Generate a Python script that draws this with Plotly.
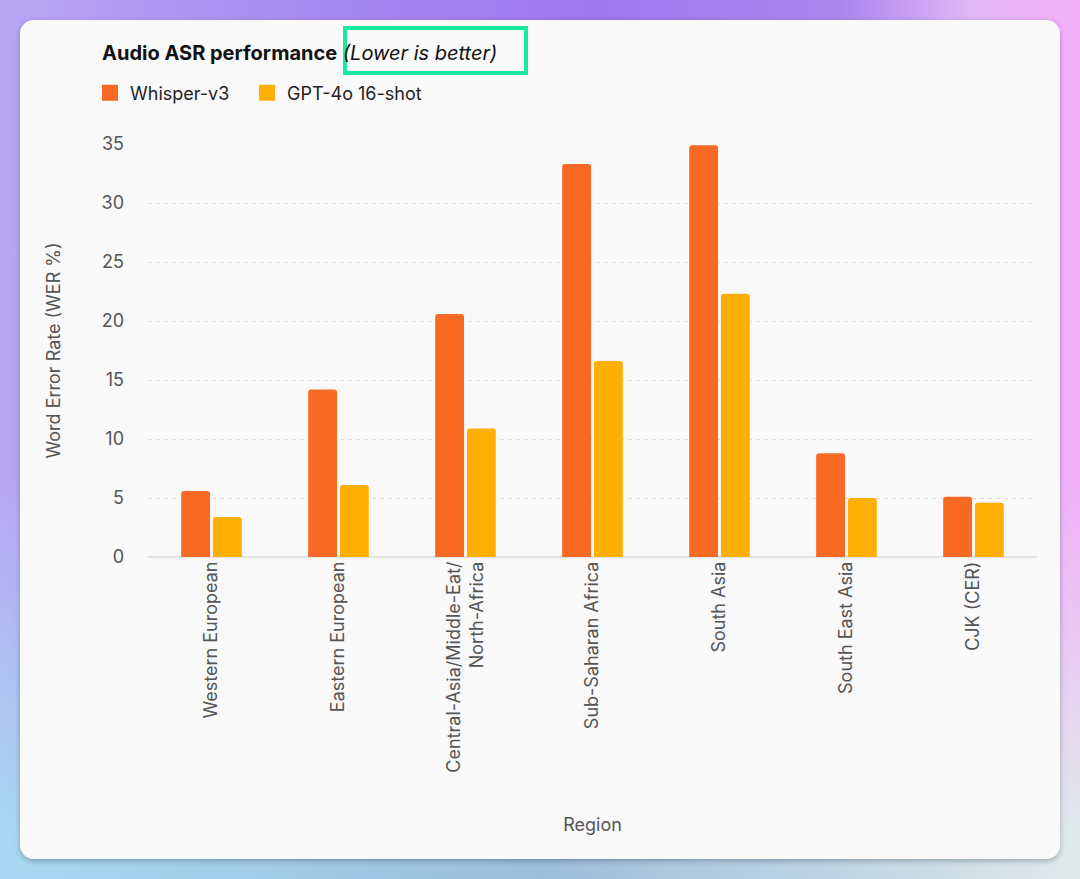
import base64
import plotly.graph_objects as go

# ---- data ----
regions = [
    "Western European",
    "Eastern European",
    "Central-Asia/Middle-Eat/<br>North-Africa",
    "Sub-Saharan Africa",
    "South Asia",
    "South East Asia",
    "CJK (CER)",
]
whisper_v3 = [5.6, 14.2, 20.6, 33.3, 34.9, 8.8, 5.1]
gpt4o_16shot = [3.4, 6.1, 10.9, 16.6, 22.3, 5.0, 4.6]
y_ticks = [0, 5, 10, 15, 20, 25, 30, 35]
series_names = ["Whisper-v3", "GPT-4o 16-shot"]
series_colors = ["#F86A24", "#FFAF03"]

# ---- layout geometry (px) ----
W, H = 1080, 879
ML, MR, MT, MB = 148, 43, 144, 322
PW, PH = W - ML - MR, H - MT - MB


def px_x(px):
    return (px - ML) / PW


def px_y(py):
    return (H - MB - py) / PH


FONT = "Inter, 'Noto Sans', sans-serif"

# background: gradient + card drawn as an svg image
svg = f"""<svg xmlns='http://www.w3.org/2000/svg' width='{W}' height='{H}' viewBox='0 0 {W} {H}'>
<defs>
<linearGradient id='top' x1='0' y1='0' x2='1' y2='0'>
<stop offset='0' stop-color='#b8a7f4'/>
<stop offset='0.3' stop-color='#a688f1'/>
<stop offset='0.55' stop-color='#9f78ef'/>
<stop offset='0.78' stop-color='#ab86ef'/>
<stop offset='0.9' stop-color='#e2b6f7'/>
<stop offset='1' stop-color='#f3affa'/>
</linearGradient>
<linearGradient id='bot' x1='0' y1='0' x2='1' y2='0'>
<stop offset='0' stop-color='#a8d8f2'/>
<stop offset='0.5' stop-color='#9bbedb'/>
<stop offset='0.85' stop-color='#c9dbe6'/>
<stop offset='1' stop-color='#e0eaea'/>
</linearGradient>
<linearGradient id='fade' x1='0' y1='0' x2='0' y2='1'>
<stop offset='0' stop-color='white'/>
<stop offset='0.55' stop-color='white'/>
<stop offset='0.95' stop-color='black'/>
</linearGradient>
<mask id='m'><rect width='{W}' height='{H}' fill='url(#fade)'/></mask>
<filter id='sh' x='-5%' y='-5%' width='110%' height='110%'>
<feDropShadow dx='0' dy='2' stdDeviation='2.5' flood-color='#2a3340' flood-opacity='0.35'/>
</filter>
</defs>
<rect width='{W}' height='{H}' fill='url(#bot)'/>
<rect width='{W}' height='{H}' fill='url(#top)' mask='url(#m)'/>
<rect x='20' y='20' width='1040' height='839' rx='14' ry='14' fill='#f9f9f9' filter='url(#sh)'/>
</svg>"""
bg_src = "data:image/svg+xml;base64," + base64.b64encode(svg.encode()).decode()

legend_ids = ["legend", "legend2"]
legend_px = [90, 247]

fig = go.Figure()
for name, vals, col in zip(series_names, [whisper_v3, gpt4o_16shot], series_colors):
    fig.add_trace(go.Bar(
        name=name, x=regions, y=vals, showlegend=False, legendgroup=name,
        marker=dict(color=col, cornerradius=3, line=dict(width=0)),
    ))
# legend entries with larger square swatches
for name, col, lg in zip(series_names, series_colors, legend_ids):
    fig.add_trace(go.Scatter(
        name=name, x=[None], y=[None], mode="markers", legendgroup=name, legend=lg,
        marker=dict(symbol="square", size=16, color=col), hoverinfo="skip",
    ))

legend_style = dict(
    orientation="h", xanchor="left", y=px_y(93), yanchor="middle",
    font=dict(family=FONT, size=18, color="#222222"),
    bgcolor="rgba(0,0,0,0)", itemsizing="trace",
)

fig.update_layout(
    width=W, height=H,
    margin=dict(l=ML, r=MR, t=MT, b=MB, autoexpand=False),
    paper_bgcolor="#f9f9f9",
    plot_bgcolor="rgba(0,0,0,0)",
    barmode="group",
    bargap=0.5,
    bargroupgap=0.09,
    font=dict(family=FONT, color="#555555", size=16),
    title=dict(
        text="<b>Audio ASR performance</b> <i>(Lower is better)</i>",
        x=102 / W, xref="container", xanchor="left",
        y=1 - 53 / H, yref="container", yanchor="middle",
        font=dict(family=FONT, size=20, color="#111111"),
    ),
    legend=dict(x=px_x(legend_px[0]), **legend_style),
    legend2=dict(x=px_x(legend_px[1]), **legend_style),
    images=[dict(
        source=bg_src, xref="paper", yref="paper",
        x=-ML / PW, y=1 + MT / PH, sizex=W / PW, sizey=H / PH,
        xanchor="left", yanchor="top", sizing="stretch", layer="below",
    )],
    shapes=[dict(
        type="rect", xref="paper", yref="paper",
        x0=px_x(345), x1=px_x(526), y0=px_y(28), y1=px_y(73),
        line=dict(color="#19E89F", width=4), fillcolor="rgba(0,0,0,0)",
    )],
)

fig.update_xaxes(
    tickangle=-90,
    tickfont=dict(family=FONT, size=18, color="#555555"),
    title=dict(text="Region", standoff=46, font=dict(family=FONT, size=18, color="#555555")),
    showgrid=False, showline=False, ticks="",
    automargin=False,
)
fig.update_yaxes(
    range=[0, 35],
    tickvals=y_ticks,
    tickfont=dict(family=FONT, size=18, color="#555555"),
    title=dict(text="Word Error Rate (WER %)", standoff=36, font=dict(family=FONT, size=18, color="#555555")),
    showgrid=True, gridcolor="#dedede", gridwidth=1, griddash="4px,4px",
    zeroline=True, zerolinecolor="#e2e2e2", zerolinewidth=2,
    ticks="", ticklabelstandoff=23,
    automargin=False,
)

fig.write_html(
    "out.html",
    config={"displayModeBar": False},
    post_script="document.body.style.margin='0';document.body.style.overflow='hidden';",
)
